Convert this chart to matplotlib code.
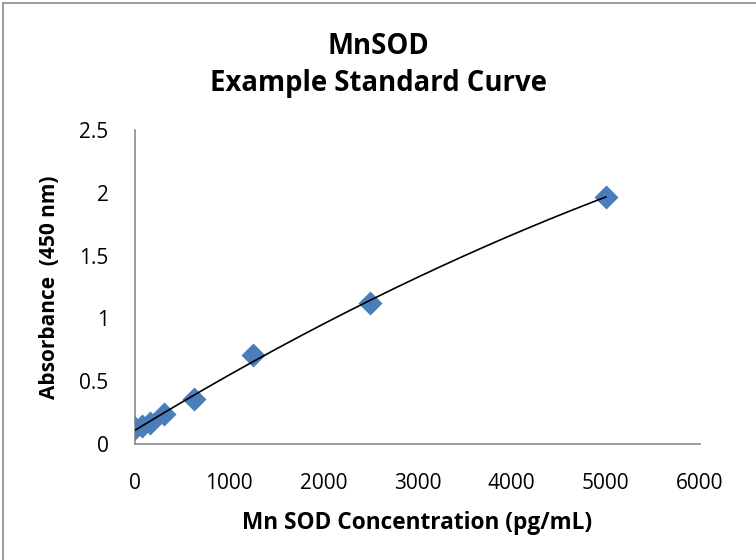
import numpy as np
import matplotlib
matplotlib.use("Agg")
import matplotlib.pyplot as plt
from matplotlib.lines import Line2D

concentration = [0, 78.125, 156.25, 312.5, 625, 1250, 2500, 5000]
absorbance = [0.13, 0.14, 0.17, 0.24, 0.36, 0.71, 1.12, 1.97]
x_ticks = [0, 1000, 2000, 3000, 4000, 5000, 6000]
y_ticks = [0, 0.5, 1, 1.5, 2, 2.5]
y_tick_labels = ["0", "0.5", "1", "1.5", "2", "2.5"]

plt.rcParams['font.family'] = ['Open Sans', 'DejaVu Sans']

fig = plt.figure(figsize=(7.56, 5.6), dpi=100)
ax = fig.add_axes([135/756, 1 - 444/560, (700-135)/756, (444-130)/560])

ax.scatter(concentration, absorbance, marker='D', s=150, color='#4a7ebb', zorder=3, linewidths=0)

coef = np.polyfit(concentration, absorbance, 2)
xf = np.linspace(min(concentration), max(concentration), 200)
ax.plot(xf, np.polyval(coef, xf), color='black', lw=1.2, zorder=4)

ax.set_xlim(0, 6000)
ax.set_ylim(0, 2.5)
ax.set_xticks(x_ticks)
ax.set_xticklabels([str(t) for t in x_ticks])
ax.set_yticks(y_ticks)
ax.set_yticklabels(y_tick_labels)
ax.tick_params(length=0, labelsize=15, colors='black')
ax.tick_params(axis='x', pad=21)
ax.tick_params(axis='y', pad=19)
for s in ['top', 'right']:
    ax.spines[s].set_visible(False)
for s in ['left', 'bottom']:
    ax.spines[s].set_color('#8c8c8c')
    ax.spines[s].set_linewidth(1.2)
ax.spines['left'].set_zorder(1)

ax.set_xlabel('Mn SOD Concentration (pg/mL)', fontsize=16.3, fontweight='bold', labelpad=12)
ax.set_ylabel('Absorbance  (450 nm)', fontsize=15, fontweight='bold', labelpad=14)

fig.text(0.5, 1 - 46/560, 'MnSOD', ha='center', va='center', fontsize=19.8, fontweight='bold')
fig.text(0.5, 1 - 84/560, 'Example Standard Curve', ha='center', va='center', fontsize=19.8, fontweight='bold')

fig.add_artist(Line2D([3/756, 3/756], [0, 1 - 3/560], transform=fig.transFigure, color='#8c8c8c', lw=1.2))
fig.add_artist(Line2D([3/756, 1], [1 - 3/560, 1 - 3/560], transform=fig.transFigure, color='#8c8c8c', lw=1.2))

fig.savefig('out.png', dpi=100)
